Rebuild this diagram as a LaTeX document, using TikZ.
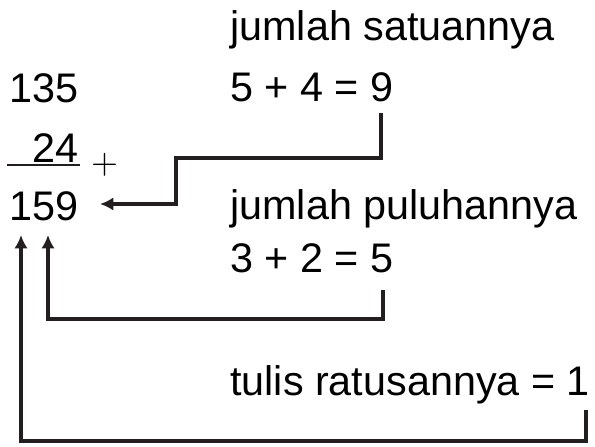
\documentclass[tikz,border=0pt]{standalone}
\usepackage{fontspec}
\setmainfont{Liberation Sans}
\usetikzlibrary{arrows.meta}
\tikzset{
  teks/.style={inner sep=0pt, font=\fontsize{31}{36}\selectfont},
  garis/.style={line width=2.6pt, line join=miter, color={rgb, 255:red, 35; green, 31; blue, 32}},
  panah/.style={garis, -{Latex[length=10pt,width=10pt]}},
}
\begin{document}
\begin{tikzpicture}[x=0.75pt,y=0.75pt,yscale=-1,xscale=1]
\path (0,0) rectangle (595,446); %picture is 595 wide and 446 high

% Text Node
\node[teks, anchor=base west] (satuan) at (230,40) {jumlah satuannya};
% Text Node
\node[teks, anchor=base west] (jml9) at (230,101) {5 + 4 = 9};
% Text Node
\node[teks, anchor=base west] (puluhan) at (230,219) {jumlah puluhannya};
% Text Node
\node[teks, anchor=base west] (jml5) at (230,272) {3 + 2 = 5};
% Text Node
\node[teks, anchor=base west] (ratusan) at (230,395) {tulis ratusannya = 1};
% Text Node
\node[teks, anchor=base east] (a135) at (78.5,102) {135};
% Text Node
\node[teks, anchor=base east] (a24) at (78.5,162) {24};
% Text Node
\node[teks, anchor=base east] (a159) at (78.5,220) {159};
% Text Node
\node[inner sep=0pt] (tambah) at (104.5,165) {\scalebox{2.6}{$+$}};

%Straight Lines
\draw[line width=0.9pt, color={rgb, 255:red, 35; green, 31; blue, 32}] (7,165) -- (80,165);

% ends of the connectors
\coordinate (dari9) at (381,113);
\coordinate (belok9) at (176,158);
\coordinate (ke9) at (100,204);
\coordinate (dari5) at (383,290);
\coordinate (belok5) at (48,319);
\coordinate (ke5) at (48,235);
\coordinate (dari1) at (586,410);
\coordinate (belok1) at (21,441);
\coordinate (ke1) at (21,235);

%Connectors
\draw[panah] (dari9) |- (belok9) |- (ke9);
\draw[panah] (dari5) |- (belok5) -- (ke5);
\draw[panah] (dari1) |- (belok1) -- (ke1);

\end{tikzpicture}
\end{document}
